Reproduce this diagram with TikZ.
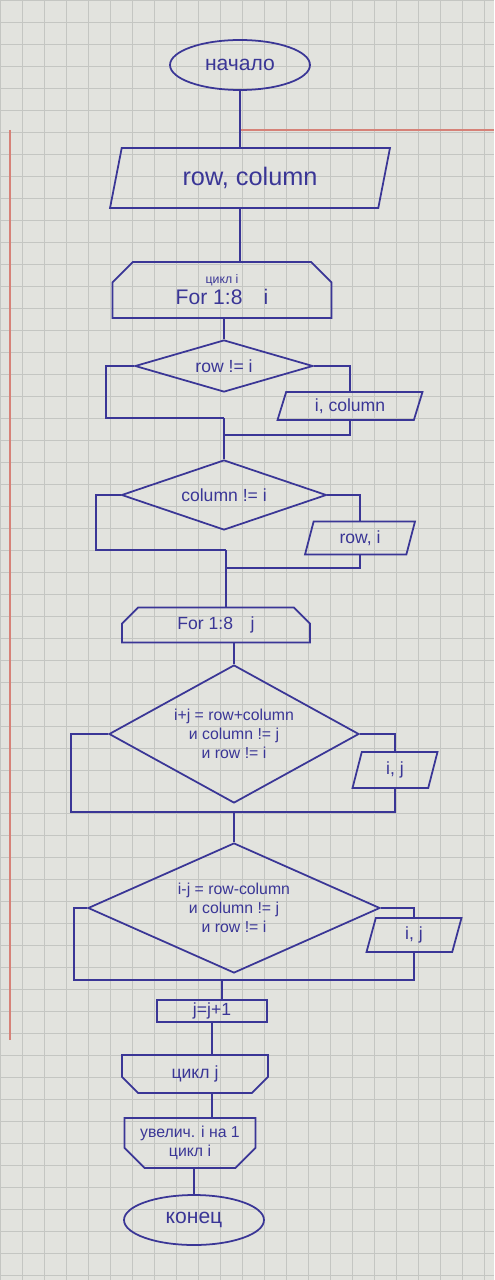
\documentclass[tikz,border=0pt]{standalone}
\usepackage{fontspec}
\setmainfont{Liberation Sans}
\usepackage{xcolor}
\usepackage{tikz}
\usetikzlibrary{shapes.geometric}
\usetikzlibrary{shapes.misc}

\definecolor{ink}{RGB}{58,54,150}
\definecolor{paper}{RGB}{226,227,222}
\definecolor{gridline}{RGB}{196,198,194}
\definecolor{margin}{RGB}{214,130,120}

\begin{document}
\begin{tikzpicture}[x=0.02cm,y=-0.02cm,
  every node/.style={draw=ink,text=ink,line width=1pt,inner sep=1pt,align=center,font=\normalsize},
  term/.style={ellipse,minimum width=2.8cm,minimum height=1cm,font=\large},
  iobox/.style={trapezium,trapezium left angle=65,trapezium right angle=115,trapezium stretches body},
  loopbeg/.style={chamfered rectangle,chamfered rectangle corners={north west,north east},chamfered rectangle xsep=8pt},
  loopend/.style={chamfered rectangle,chamfered rectangle corners={south west,south east},chamfered rectangle xsep=8pt},
  decision/.style={diamond,inner sep=0pt},
  procbox/.style={rectangle},
  wire/.style={draw=ink,line width=1pt}]
\useasboundingbox (0,0) rectangle (494,1280);
\fill[paper] (0,0) rectangle (494,1280);
\draw[gridline,step=0.44cm] (0,0) grid (494,1280);
\draw[margin,line width=0.8pt] (240,130) -- (494,130);
\draw[margin,line width=0.6pt] (10,130) -- (10,1040);

\node[term] (start) at (240,65) {начало};
\node[iobox,minimum width=5.6cm,minimum height=1.2cm,font=\Large] (rc) at (250,178) {row, column};
\node[loopbeg,minimum width=4.38cm,minimum height=1.12cm] (loopi) at (222,290)
  {{\scriptsize цикл i}\\{\large For 1:8\quad i}};
\node[decision,aspect=3.4,minimum width=3.56cm,minimum height=1.04cm] (rowne) at (224,366) {row != i};
\node[iobox,minimum width=2.9cm,minimum height=0.56cm] (outic) at (350,406) {i, column};
\node[decision,aspect=2.9,minimum width=4.1cm,minimum height=1.4cm] (colne) at (224,495) {column != i};
\node[iobox,minimum width=2.2cm,minimum height=0.66cm] (outri) at (360,538) {row, i};
\node[loopbeg,minimum width=3.76cm,minimum height=0.7cm] (loopj) at (216,625) {For 1:8\quad j};
\node[decision,aspect=1.8,minimum width=5cm,minimum height=2.76cm,font=\small] (sumeq) at (234,734)
  {i+j = row+column\\и column != j\\и row != i};
\node[iobox,minimum width=1.7cm,minimum height=0.72cm] (outij1) at (395,770) {i, j};
\node[decision,aspect=2.25,minimum width=5.84cm,minimum height=2.6cm,font=\small] (difeq) at (234,908)
  {i-j = row-column\\и column != j\\и row != i};
\node[iobox,minimum width=1.9cm,minimum height=0.68cm] (outij2) at (414,935) {i, j};
\node[procbox,minimum width=2.2cm,minimum height=0.44cm] (incj) at (212,1011) {j=j+1};
\node[loopend,minimum width=2.92cm,minimum height=0.76cm] (endj) at (195,1074) {цикл j};
\node[loopend,minimum width=2.44cm,minimum height=0.94cm,font=\small] (endi) at (190,1143)
  {увелич. i на 1\\цикл i};
\node[term] (stop) at (194,1220) {конец};

\coordinate (m1) at (224,418);
\coordinate (m1b) at (224,435);
\coordinate (m2) at (226,550);
\coordinate (m2b) at (226,568);
\coordinate (m3) at (234,812);
\coordinate (m4) at (222,980);

\draw[wire] (start.south) -- (start.south |- rc.north);
\draw[wire] (rc.south -| start.south) -- (loopi.north -| start.south);
\draw[wire] (loopi.south -| rowne.north) -- (rowne.north);
\draw[wire] (rowne.west) -- ++(-28,0) |- (m1);
\draw[wire] (rowne.east) -| (outic.north);
\draw[wire] (outic.south) |- (m1b);
\draw[wire] (m1) -- (colne.north);
\draw[wire] (colne.west) -- ++(-25,0) |- (m2);
\draw[wire] (colne.east) -| (outri.north);
\draw[wire] (outri.south) |- (m2b);
\draw[wire] (m2) -- (m2 |- loopj.north);
\draw[wire] (loopj.south -| sumeq.north) -- (sumeq.north);
\draw[wire] (sumeq.west) -- ++(-37,0) |- (m3);
\draw[wire] (sumeq.east) -| (outij1.north);
\draw[wire] (outij1.south) |- (m3);
\draw[wire] (m3) -- (difeq.north);
\draw[wire] (difeq.west) -- ++(-13,0) |- (m4);
\draw[wire] (difeq.east) -| (outij2.north);
\draw[wire] (outij2.south) |- (m4);
\draw[wire] (m4) -- (m4 |- incj.north);
\draw[wire] (incj.south) -- (incj.south |- endj.north);
\draw[wire] (endj.south -| incj.south) -- (endi.north -| incj.south);
\draw[wire] (endi.south -| stop.north) -- (stop.north);
\end{tikzpicture}
\end{document}
